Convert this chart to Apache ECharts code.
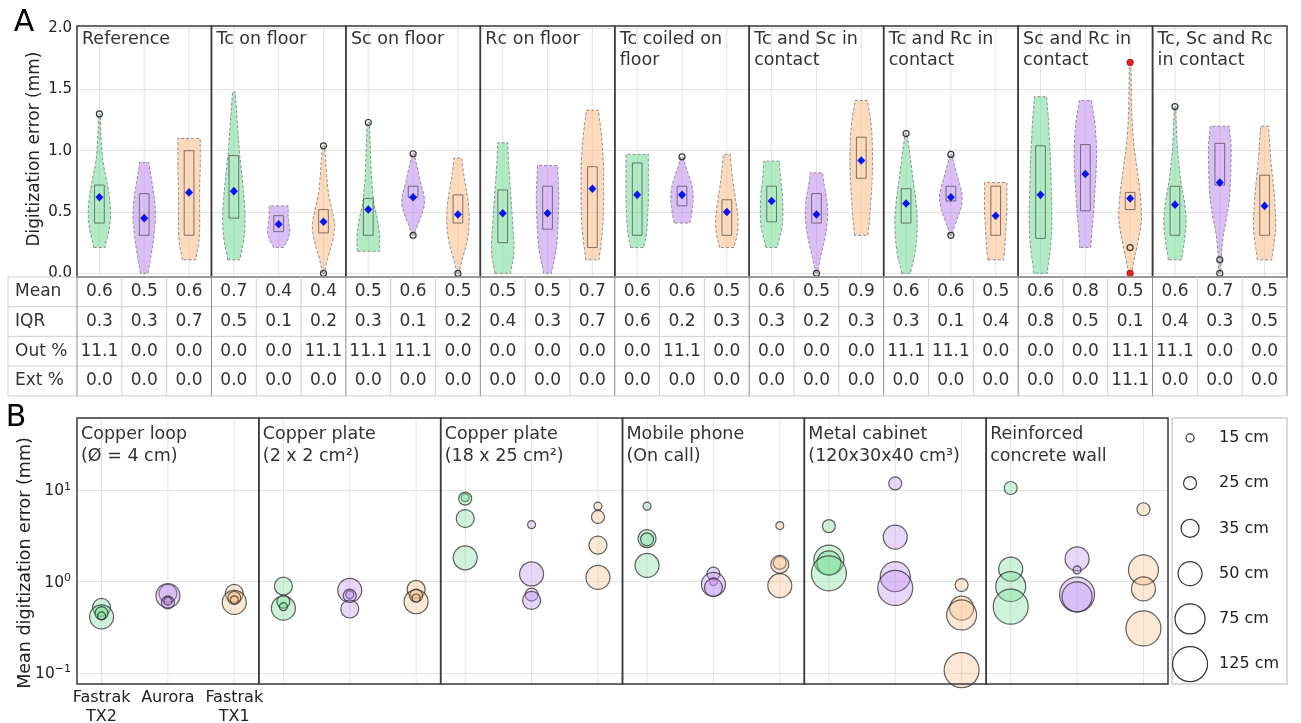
<!DOCTYPE html>
<html><head><meta charset="utf-8">
<script src="https://cdn.jsdelivr.net/npm/echarts@6/dist/echarts.min.js"></script>
<style>html,body{margin:0;padding:0;background:#fff}#c{width:1301px;height:723px}</style>
</head><body><div id="c"></div><script>
// ---------------- DATA ----------------
const conditions = ['Reference','Tc on floor','Sc on floor','Rc on floor','Tc coiled on\nfloor','Tc and Sc in\ncontact','Tc and Rc in\ncontact','Sc and Rc in\ncontact','Tc, Sc and Rc\nin contact'];
const sensorLabels = ['Fastrak\nTX2','Aurora','Fastrak\nTX1'];
const yTicksA = [0, 0.5, 1.0, 1.5, 2.0];
// violin rows: [min, max, q1, q3, mean, relative width profile (bottom->top), open circles, red points]
const violinTX2 = [
  [0.21, 1.30, 0.41, 0.72, 0.62, [0.5,0.85,1.0,0.9,0.65,0.35,0.2,0.12,0.08], [1.30], []],
  [0.11, 1.48, 0.45, 0.96, 0.67, [0.55,0.9,1.0,0.9,0.72,0.52,0.38,0.25,0.12], [], []],
  [0.18, 1.23, 0.31, 0.61, 0.52, [1.0,1.0,0.8,0.5,0.35,0.25,0.2,0.15,0.1], [1.23], []],
  [0.00, 1.065, 0.25, 0.68, 0.49, [0.7,0.95,1.0,0.9,0.8,0.7,0.6,0.5,0.45], [], []],
  [0.21, 0.97, 0.31, 0.90, 0.64, [0.6,0.8,0.9,0.95,1.0,1.0,1.0,1.0,1.0], [], []],
  [0.21, 0.915, 0.42, 0.71, 0.59, [0.5,0.75,0.95,1.0,1.0,0.95,0.85,0.75,0.7], [], []],
  [0.00, 1.14, 0.41, 0.69, 0.57, [0.4,0.75,0.95,1.0,0.9,0.7,0.5,0.3,0.1], [1.14], []],
  [0.00, 1.44, 0.285, 1.04, 0.64, [0.6,0.85,1.0,1.0,0.95,0.9,0.8,0.7,0.55], [], []],
  [0.11, 1.36, 0.31, 0.71, 0.56, [0.6,0.85,1.0,0.85,0.55,0.35,0.2,0.12,0.08], [1.36], []]
];
const violinAurora = [
  [0.00, 0.905, 0.31, 0.65, 0.45, [0.35,0.55,0.75,0.9,1.0,0.95,0.8,0.6,0.42], [], []],
  [0.21, 0.55, 0.34, 0.47, 0.40, [0.45,0.7,0.9,1.0,0.95,0.9,0.85,0.85,0.85], [], []],
  [0.31, 0.975, 0.62, 0.71, 0.62, [0.1,0.4,0.75,1.0,0.95,0.7,0.5,0.3,0.1], [0.975,0.31], []],
  [0.00, 0.88, 0.36, 0.71, 0.49, [0.35,0.6,0.8,0.9,0.95,1.0,1.0,0.95,0.9], [], []],
  [0.41, 0.95, 0.55, 0.71, 0.64, [0.7,0.85,0.95,1.0,0.95,0.8,0.55,0.3,0.1], [0.95], []],
  [0.00, 0.82, 0.41, 0.65, 0.48, [0.1,0.3,0.55,0.8,0.95,1.0,0.9,0.7,0.55], [0.0], []],
  [0.31, 0.97, 0.59, 0.71, 0.62, [0.1,0.35,0.7,0.95,1.0,0.8,0.55,0.3,0.1], [0.97,0.31], []],
  [0.21, 1.41, 0.51, 1.05, 0.81, [0.5,0.6,0.75,0.85,0.95,1.0,0.95,0.8,0.55], [], []],
  [0.00, 1.20, 0.72, 1.06, 0.74, [0.1,0.15,0.3,0.6,0.85,0.95,1.0,1.0,0.85], [0.11,0.0], []]
];
const violinTX1 = [
  [0.11, 1.10, 0.31, 1.00, 0.66, [0.6,0.85,0.95,0.95,0.95,0.95,1.0,1.0,1.0], [], []],
  [0.00, 1.04, 0.33, 0.52, 0.42, [0.1,0.4,0.8,1.0,0.75,0.45,0.3,0.2,0.1], [1.04,0.0], []],
  [0.00, 0.94, 0.41, 0.64, 0.48, [0.1,0.4,0.75,0.95,1.0,0.9,0.7,0.5,0.35], [0.0], []],
  [0.11, 1.33, 0.21, 0.87, 0.69, [0.6,0.8,0.95,1.0,1.0,1.0,0.9,0.75,0.55], [], []],
  [0.21, 0.97, 0.31, 0.60, 0.50, [0.65,0.9,1.0,0.95,0.8,0.65,0.5,0.4,0.3], [], []],
  [0.31, 1.41, 0.775, 1.11, 0.92, [0.6,0.75,0.85,0.95,1.0,1.0,0.95,0.8,0.55], [], []],
  [0.11, 0.74, 0.31, 0.71, 0.47, [0.7,0.8,0.85,0.9,0.95,1.0,1.0,1.0,1.0], [], []],
  [0.00, 1.72, 0.52, 0.66, 0.61, [0.15,0.6,1.0,0.9,0.6,0.3,0.15,0.1,0.08], [0.21], [1.72,0.0]],
  [0.11, 1.20, 0.31, 0.80, 0.55, [0.65,0.85,1.0,0.95,0.85,0.7,0.55,0.45,0.35], [], []]
];
const tableRowNames = ['Mean','IQR','Out %','Ext %'];
const tableMean = [0.6,0.5,0.6, 0.7,0.4,0.4, 0.5,0.6,0.5, 0.5,0.5,0.7, 0.6,0.6,0.5, 0.6,0.5,0.9, 0.6,0.6,0.5, 0.6,0.8,0.5, 0.6,0.7,0.5];
const tableIQR  = [0.3,0.3,0.7, 0.5,0.1,0.2, 0.3,0.1,0.2, 0.4,0.3,0.7, 0.6,0.2,0.3, 0.3,0.2,0.3, 0.3,0.1,0.4, 0.8,0.5,0.1, 0.4,0.3,0.5];
const tableOut  = [11.1,0,0, 0,0,11.1, 11.1,11.1,0, 0,0,0, 0,11.1,0, 0,0,0, 11.1,11.1,0, 0,0,11.1, 11.1,0,0];
const tableExt  = [0,0,0, 0,0,0, 0,0,0, 0,0,0, 0,0,0, 0,0,0, 0,0,0, 0,0,11.1, 0,0,0];

const objects = ['Copper loop\n(Ø = 4 cm)','Copper plate\n(2 x 2 cm²)','Copper plate\n(18 x 25 cm²)','Mobile phone\n(On call)','Metal cabinet\n(120x30x40 cm³)','Reinforced\nconcrete wall'];
const yTicksB = [0.1, 1, 10];
const yTickExponentsB = ['−1', '0', '1'];
// bubbles: [object index, mean error (mm), distance (cm)]
const tx2Bubbles = [
  [0,0.52,35],[0,0.41,50],[0,0.45,25],[0,0.42,15],
  [1,0.89,35],[1,0.51,50],[1,0.60,25],[1,0.53,15],
  [2,8.3,15],[2,8.1,25],[2,4.9,35],[2,1.82,50],
  [3,6.7,15],[3,2.95,35],[3,2.9,25],[3,1.5,50],
  [4,4.05,25],[4,1.72,75],[4,1.6,50],[4,1.23,125],
  [5,10.6,25],[5,1.37,50],[5,0.88,75],[5,0.53,125]
];
const auroraBubbles = [
  [0,0.74,35],[0,0.70,50],[0,0.59,25],[0,0.61,15],
  [1,0.80,50],[1,0.72,15],[1,0.70,25],[1,0.50,35],
  [2,4.2,15],[2,1.21,50],[2,0.72,25],[2,0.62,35],
  [3,1.22,25],[3,1.0,15],[3,0.93,50],[3,0.86,35],
  [4,11.9,25],[4,3.07,50],[4,1.13,75],[4,0.85,125],
  [5,1.77,50],[5,1.34,15],[5,0.72,125],[5,0.68,75]
];
const tx1Bubbles = [
  [0,0.74,35],[0,0.59,50],[0,0.66,25],[0,0.63,15],
  [1,0.82,35],[1,0.60,50],[1,0.70,25],[1,0.66,15],
  [2,6.7,15],[2,5.1,25],[2,2.5,35],[2,1.11,50],
  [3,4.1,15],[3,1.6,25],[3,1.54,35],[3,0.90,50],
  [4,0.915,25],[4,0.51,50],[4,0.43,75],[4,0.107,125],
  [5,6.2,25],[5,1.34,75],[5,0.83,50],[5,0.306,125]
];
const legendDistances = [15, 25, 35, 50, 75, 125];

// ---------------- STYLE / LAYOUT ----------------
const FONT = 'DejaVu Sans';
const baseColors = ['#77dd99', '#c18ff0', '#f9c08a'];
const sizeByDist = {15: 8, 25: 13, 35: 18, 50: 24, 75: 30, 125: 35};
const offA = [1/6, 0.5, 5/6];
const offB = [0.135, 0.5, 0.865];
const A_MIN = -0.03, A_MAX = 2.017;
const B_MIN = 0.0753, B_MAX = 62;
const violinColumns = [violinTX2, violinAurora, violinTX1];
const bubbleColumns = [tx2Bubbles, auroraBubbles, tx1Bubbles];

function rgba(hex, a) {
  const n = parseInt(hex.slice(1), 16);
  return 'rgba(' + ((n >> 16) & 255) + ',' + ((n >> 8) & 255) + ',' + (n & 255) + ',' + a + ')';
}
function smoothProfile(prof, steps) {
  const out = [], n = prof.length;
  const P = i => prof[Math.max(0, Math.min(n - 1, i))];
  for (let i = 0; i < n - 1; i++) {
    const p0 = P(i - 1), p1 = P(i), p2 = P(i + 1), p3 = P(i + 2);
    for (let k = 0; k < steps; k++) {
      const t = k / steps;
      const w = 0.5 * (2 * p1 + (-p0 + p2) * t + (2 * p0 - 5 * p1 + 4 * p2 - p3) * t * t + (-p0 + 3 * p1 - 3 * p2 + p3) * t * t * t);
      out.push([(i + t) / (n - 1), Math.max(0.03, w)]);
    }
  }
  out.push([1, prof[n - 1]]);
  return out;
}

const violinItems = [];
violinColumns.forEach((col, s) => col.forEach((row, g) => violinItems.push([g + offA[s], row[4], s, g])));
const bColumnItems = [];
objects.forEach((o, g) => offB.forEach((o2, s) => bColumnItems.push([g + o2, 1, s, g])));

const chart = echarts.init(document.getElementById('c'), null, {renderer: 'canvas', width: 1301, height: 723});

const option = {
  animation: false,
  backgroundColor: '#fff',
  grid: [
    {left: 77, top: 26, width: 1210, height: 251, outerBoundsMode: 'none'},
    {left: 77, top: 418, width: 1091, height: 266, outerBoundsMode: 'none'},
    {left: 1172, top: 418, width: 115, height: 266, outerBoundsMode: 'none'}
  ],
  xAxis: [
    {gridIndex: 0, type: 'value', min: 0, max: 9, show: false},
    {gridIndex: 1, type: 'value', min: 0, max: 6, show: false},
    {gridIndex: 2, type: 'value', min: 0, max: 1, show: false}
  ],
  yAxis: [
    {gridIndex: 0, type: 'value', min: A_MIN, max: A_MAX,
      axisLine: {show: false}, axisTick: {show: false},
      splitLine: {show: true, lineStyle: {color: '#e3e3e3', width: 1}},
      axisLabel: {margin: 5, fontFamily: FONT, fontSize: 15, color: '#222',
        showMinLabel: false, showMaxLabel: false,
        formatter: v => { const t = yTicksA.find(k => Math.abs(k - v) < 1e-6); return t === undefined ? '' : t.toFixed(1); }}},
    {gridIndex: 1, type: 'log', logBase: 10, min: B_MIN, max: B_MAX,
      axisLine: {show: false}, axisTick: {show: false},
      splitLine: {show: true, lineStyle: {color: '#e3e3e3', width: 1}},
      minorSplitLine: {show: false},
      axisLabel: {margin: 6, fontFamily: FONT, fontSize: 15, color: '#222',
        showMinLabel: false, showMaxLabel: false,
        formatter: v => { const i = yTicksB.findIndex(k => Math.abs(Math.log10(k) - Math.log10(v)) < 1e-6); return i < 0 ? '' : '{b|10}{s|' + yTickExponentsB[i] + '}'; },
        rich: {
          b: {fontFamily: FONT, fontSize: 15.5, color: '#222', lineHeight: 18, verticalAlign: 'bottom'},
          s: {fontFamily: FONT, fontSize: 11, color: '#222', lineHeight: 18, verticalAlign: 'top'}
        }}},
    {gridIndex: 2, type: 'value', min: -0.44, max: 5.44, inverse: true, show: false}
  ],
  graphic: [
    {type: 'text', x: 24, y: 23, style: {text: 'A', font: '30px ' + FONT, fill: '#000', align: 'center', verticalAlign: 'middle'}},
    {type: 'text', x: 16, y: 418, style: {text: 'B', font: '30px ' + FONT, fill: '#000', align: 'center', verticalAlign: 'middle'}},
    {type: 'text', x: 35, y: 149, rotation: Math.PI / 2, style: {text: 'Digitization error (mm)', font: '17px ' + FONT, fill: '#222', align: 'center', verticalAlign: 'middle'}},
    {type: 'text', x: 25, y: 563, rotation: Math.PI / 2, style: {text: 'Mean digitization error (mm)', font: '17.5px ' + FONT, fill: '#222', align: 'center', verticalAlign: 'middle'}}
  ],
  series: [
    // vertical gridlines A
    {type: 'custom', xAxisIndex: 0, yAxisIndex: 0, z: 1, silent: true, data: violinItems,
      renderItem: (params, api) => {
        const x = api.value(0);
        const p1 = api.coord([x, A_MIN]), p2 = api.coord([x, A_MAX]);
        return {type: 'line', shape: {x1: p1[0], y1: p1[1], x2: p2[0], y2: p2[1]}, style: {stroke: '#e3e3e3', lineWidth: 1}};
      }},
    // violins
    {type: 'custom', xAxisIndex: 0, yAxisIndex: 0, z: 2, silent: true, data: violinItems,
      renderItem: (params, api) => {
        const x = api.value(0), s = api.value(2), g = api.value(3);
        const [mn, mx, q1, q3, mean, prof, circles, reds] = violinColumns[s][g];
        const cx = api.coord([x, 0])[0];
        const slot = api.size([1 / 3, 0])[0];
        const hw = slot * 0.25, bw = slot * 0.108;
        const left = [], right = [];
        smoothProfile(prof, 8).forEach(([f, w]) => {
          const y = api.coord([x, mn + f * (mx - mn)])[1];
          left.push([cx - w * hw, y]); right.push([cx + w * hw, y]);
        });
        const children = [{type: 'polygon', shape: {points: left.concat(right.reverse())},
          style: {fill: rgba(baseColors[s], 0.58), stroke: '#8a8a8a', lineWidth: 1, lineDash: [3, 2]}}];
        const y1 = api.coord([x, q1])[1], y3 = api.coord([x, q3])[1];
        children.push({type: 'rect', shape: {x: cx - bw, y: y3, width: 2 * bw, height: y1 - y3},
          style: {fill: 'none', stroke: 'rgba(70,70,70,0.7)', lineWidth: 1}});
        circles.forEach(v => { const y = api.coord([x, v])[1];
          children.push({type: 'circle', shape: {cx: cx, cy: y, r: 3}, style: {fill: 'none', stroke: '#333', lineWidth: 1.2}}); });
        reds.forEach(v => { const y = api.coord([x, v])[1];
          children.push({type: 'circle', shape: {cx: cx, cy: y, r: 3.2}, style: {fill: '#e8221f', stroke: '#8a1010', lineWidth: 0.8}}); });
        const ym = api.coord([x, mean])[1];
        children.push({type: 'polygon', shape: {points: [[cx, ym - 4.3], [cx + 4, ym], [cx, ym + 4.3], [cx - 4, ym]]},
          style: {fill: '#0a14f0', stroke: 'none'}});
        return {type: 'group', children};
      }},
    // frames + titles A
    {type: 'custom', xAxisIndex: 0, yAxisIndex: 0, z: 3, silent: true, clip: false,
      data: conditions.map((c, g) => [g, 0]),
      renderItem: (params, api) => {
        const g = api.value(0);
        const tl = api.coord([g, A_MAX]), br = api.coord([g + 1, A_MIN]);
        return {type: 'group', children: [
          {type: 'rect', shape: {x: tl[0], y: tl[1], width: br[0] - tl[0], height: br[1] - tl[1]}, style: {fill: 'none', stroke: '#3a3a3a', lineWidth: 1.5}},
          {type: 'text', style: {text: conditions[g], x: tl[0] + 5, y: tl[1] + 3.5, font: '17.5px ' + FONT, fill: '#333', align: 'left', verticalAlign: 'top', lineHeight: 20.5}}
        ]};
      }},
    // table
    {type: 'custom', xAxisIndex: 0, yAxisIndex: 0, z: 3, silent: true, clip: false, data: [[0, 0]],
      renderItem: (params, api) => {
        const cs = params.coordSys;
        const top = cs.y + cs.height, rowH = 29.7, leftX = 8, rightX = cs.x + cs.width;
        const rows = [tableMean, tableIQR, tableOut, tableExt];
        const ch = [];
        for (let r = 0; r <= rows.length; r++) {
          const y = top + r * rowH;
          ch.push({type: 'line', shape: {x1: leftX, y1: y, x2: rightX, y2: y}, style: {stroke: '#d0d0d0', lineWidth: 1}});
        }
        ch.push({type: 'line', shape: {x1: leftX, y1: top, x2: leftX, y2: top + rows.length * rowH}, style: {stroke: '#d0d0d0', lineWidth: 1}});
        for (let k = 0; k <= 27; k++) {
          const x = api.coord([k / 3, 0])[0];
          const major = k % 3 === 0;
          ch.push({type: 'line', shape: {x1: x, y1: top, x2: x, y2: top + rows.length * rowH},
            style: {stroke: major ? '#8c8c8c' : '#d0d0d0', lineWidth: 1}});
        }
        tableRowNames.forEach((name, r) => {
          const yc = top + (r + 0.5) * rowH;
          ch.push({type: 'text', style: {text: name, x: 15, y: yc, font: '17px ' + FONT, fill: '#333', align: 'left', verticalAlign: 'middle'}});
          rows[r].forEach((v, k) => {
            const x = api.coord([(k + 0.5) / 3, 0])[0];
            ch.push({type: 'text', style: {text: v.toFixed(1), x: x, y: yc, font: '17px ' + FONT, fill: '#333', align: 'center', verticalAlign: 'middle'}});
          });
        });
        return {type: 'group', children: ch};
      }},
    // vertical gridlines B
    {type: 'custom', xAxisIndex: 1, yAxisIndex: 1, z: 1, silent: true, data: bColumnItems,
      renderItem: (params, api) => {
        const x = api.value(0);
        const p1 = api.coord([x, B_MIN]), p2 = api.coord([x, B_MAX]);
        return {type: 'line', shape: {x1: p1[0], y1: p1[1], x2: p2[0], y2: p2[1]}, style: {stroke: '#e3e3e3', lineWidth: 1}};
      }},
    // bubbles
    ...bubbleColumns.map((col, s) => ({
      type: 'scatter', xAxisIndex: 1, yAxisIndex: 1, z: 2, silent: true,
      data: col.map(([g, v, d]) => [g + offB[s], v, d]),
      symbol: 'circle',
      symbolSize: val => sizeByDist[val[2]],
      itemStyle: {color: rgba(baseColors[s], 0.36), borderColor: 'rgba(25,25,25,0.68)', borderWidth: 1.2, opacity: 1}
    })),
    // frames + titles B + sensor labels
    {type: 'custom', xAxisIndex: 1, yAxisIndex: 1, z: 3, silent: true, clip: false,
      data: objects.map((o, g) => [g, 1]),
      renderItem: (params, api) => {
        const g = api.value(0);
        const tl = api.coord([g, B_MAX]), br = api.coord([g + 1, B_MIN]);
        const ch = [
          {type: 'rect', shape: {x: tl[0], y: tl[1], width: br[0] - tl[0], height: br[1] - tl[1]}, style: {fill: 'none', stroke: '#3a3a3a', lineWidth: 1.5}},
          {type: 'text', style: {text: objects[g], x: tl[0] + 4, y: tl[1] + 5, font: '17.5px ' + FONT, fill: '#333', align: 'left', verticalAlign: 'top', lineHeight: 22}}
        ];
        if (g === 0) {
          sensorLabels.forEach((lab, s) => {
            const p = api.coord([g + offB[s], B_MIN]);
            ch.push({type: 'text', style: {text: lab, x: p[0], y: p[1] + 4, font: '16px ' + FONT, fill: '#222', align: 'center', verticalAlign: 'top', lineHeight: 19}});
          });
        }
        return {type: 'group', children: ch};
      }},
    // size legend
    {type: 'custom', xAxisIndex: 2, yAxisIndex: 2, z: 3, silent: true, clip: false,
      data: legendDistances.map((d, i) => [0.157, i, d]),
      renderItem: (params, api) => {
        const cs = params.coordSys;
        const p = api.coord([api.value(0), api.value(1)]);
        const d = api.value(2);
        const ch = [];
        if (params.dataIndex === 0) {
          ch.push({type: 'rect', shape: {x: cs.x, y: cs.y, width: cs.width, height: cs.height}, style: {fill: '#fff', stroke: '#dadada', lineWidth: 2}});
        }
        ch.push({type: 'circle', shape: {cx: p[0], cy: p[1], r: sizeByDist[d] / 2}, style: {fill: 'none', stroke: '#333', lineWidth: 1.2}});
        ch.push({type: 'text', style: {text: d + ' cm', x: p[0] + 29, y: p[1], font: '16px ' + FONT, fill: '#222', align: 'left', verticalAlign: 'middle'}});
        return {type: 'group', children: ch};
      }}
  ]
};
chart.setOption(option);
</script></body></html>
